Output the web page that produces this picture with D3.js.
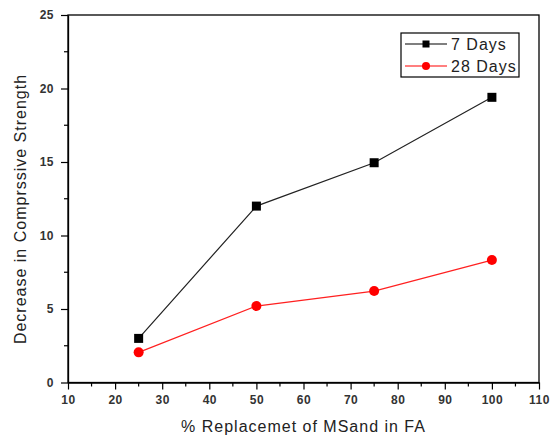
<!DOCTYPE html>
<html>
<head>
<meta charset="utf-8">
<script src="https://cdn.jsdelivr.net/npm/d3@7"></script>
<style>
	body { margin: 0; background: #fff; }
	text { font-family: Arial, "Liberation Sans", sans-serif; }
</style>
</head>
<body>
<script>

// data
const replacement = [25, 50, 75, 100]
const days7 = [3.0, 12.0, 14.95, 19.4]
const days28 = [2.05, 5.2, 6.22, 8.33]
const xTicks = [10, 20, 30, 40, 50, 60, 70, 80, 90, 100, 110]
const yTicks = [0, 5, 10, 15, 20, 25]

const width = 557, height = 436
const margin = {left: 68, top: 15, right: 18, bottom: 53.5}

const svg = d3.select('body').append('svg')
	.attr('width', width)
	.attr('height', height)

const x = d3.scaleLinear().domain([10, 110]).range([margin.left, width - margin.right])
const y = d3.scaleLinear().domain([0, 25]).range([height - margin.bottom, margin.top])

//frame
svg.append('rect')
	.attr('x', x(10)).attr('y', y(25))
	.attr('width', x(110) - x(10)).attr('height', y(0) - y(25))
	.style('fill', 'none').style('stroke', '#000').style('stroke-width', 1.3)

//minor ticks
const xMinor = d3.range(15, 110, 10)
const yMinor = d3.range(2.5, 25, 5)
svg.append('g').selectAll('line').data(xMinor).join('line')
	.attr('x1', d => x(d)).attr('x2', d => x(d))
	.attr('y1', y(0)).attr('y2', y(0) + 4)
	.style('stroke', '#000').style('stroke-width', 1.2)
svg.append('g').selectAll('line').data(yMinor).join('line')
	.attr('y1', d => y(d)).attr('y2', d => y(d))
	.attr('x1', x(10)).attr('x2', x(10) - 4)
	.style('stroke', '#000').style('stroke-width', 1.2)

//axes
const xAxis = svg.append('g')
	.attr('transform', 'translate(0,' + y(0) + ')')
	.call(d3.axisBottom(x).tickValues(xTicks).tickSize(7).tickSizeOuter(0).tickPadding(6))
const yAxis = svg.append('g')
	.attr('transform', 'translate(' + x(10) + ',0)')
	.call(d3.axisLeft(y).tickValues(yTicks).tickSize(7).tickSizeOuter(0).tickPadding(7))

for (let ax of [xAxis, yAxis]) {
	ax.select('.domain').style('stroke-width', 1.3)
	ax.selectAll('.tick line').style('stroke-width', 1.2)
	ax.selectAll('.tick text')
		.style('font-size', '12px')
		.style('font-weight', 'bold')
		.style('letter-spacing', '0.5px')
		.style('fill', '#333')
		.style('font-family', 'Arial, "Liberation Sans", sans-serif')
}

//axis titles
svg.append('text')
	.attr('x', (x(10) + x(110)) / 2).attr('y', 432)
	.attr('text-anchor', 'middle')
	.style('font-size', '16px').style('letter-spacing', '1px').style('fill', '#222')
	.text('% Replacemet of MSand in FA')

svg.append('text')
	.attr('transform', 'translate(26,209) rotate(-90)')
	.attr('text-anchor', 'middle')
	.style('font-size', '16px').style('letter-spacing', '1px').style('fill', '#222')
	.text('Decrease in Comprssive Strength')

//series
const line = d3.line().x((d, i) => x(replacement[i])).y(d => y(d))

svg.append('path').datum(days7)
	.attr('d', line)
	.style('fill', 'none').style('stroke', '#222').style('stroke-width', 1.2)
svg.append('g').selectAll('rect').data(days7).join('rect')
	.attr('x', (d, i) => x(replacement[i]) - 4.5)
	.attr('y', d => y(d) - 4.5)
	.attr('width', 9).attr('height', 9)
	.style('fill', '#000')

svg.append('path').datum(days28)
	.attr('d', line)
	.style('fill', 'none').style('stroke', '#ff2020').style('stroke-width', 1.2)
svg.append('g').selectAll('circle').data(days28).join('circle')
	.attr('cx', (d, i) => x(replacement[i]))
	.attr('cy', d => y(d))
	.attr('r', 5)
	.style('fill', '#ff0000')

//legend
const legend = svg.append('g').attr('transform', 'translate(401,33)')
legend.append('rect')
	.attr('width', 118).attr('height', 44)
	.style('fill', '#fff').style('stroke', '#000').style('stroke-width', 1.2)

const items = [
	{name: '7 Days', color: '#000', marker: 'square'},
	{name: '28 Days', color: '#ff0000', marker: 'circle'}
]
items.forEach((it, i) => {
	let g = legend.append('g').attr('transform', 'translate(0,' + (11 + i * 22) + ')')
	g.append('line').attr('x1', 4).attr('x2', 46)
		.style('stroke', it.color).style('stroke-width', 1.2)
	if (it.marker == 'square')
		g.append('rect').attr('x', 25 - 3.5).attr('y', -3.5).attr('width', 7).attr('height', 7).style('fill', it.color)
	else
		g.append('circle').attr('cx', 25).attr('r', 4).style('fill', it.color)
	g.append('text').attr('x', 50).attr('y', 6)
		.style('font-size', '16px').style('letter-spacing', '1px').style('fill', '#222')
		.text(it.name)
})

</script>
</body>
</html>
